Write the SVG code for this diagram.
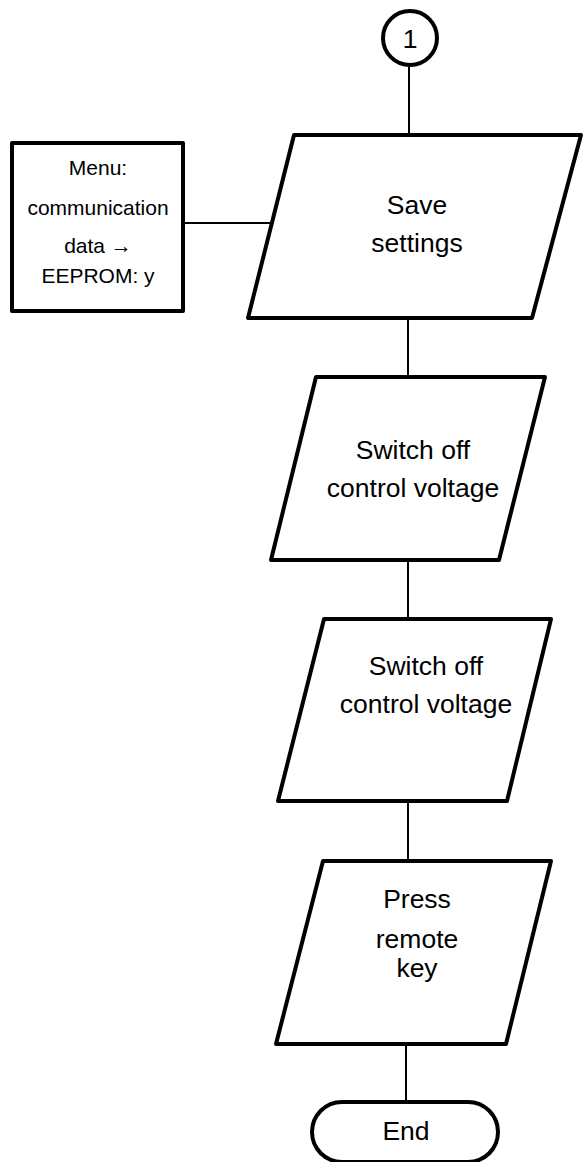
<svg xmlns="http://www.w3.org/2000/svg" width="586" height="1162" viewBox="0 0 586 1162">
<style>
.shape{fill:#fff;stroke:#000;stroke-width:4;stroke-linejoin:round}
.conn{stroke:#000;stroke-width:2;fill:none}
.t{font-family:"Liberation Sans",Arial,sans-serif;font-size:26.5px;fill:#000;text-anchor:middle}
.s{font-family:"Liberation Sans",Arial,sans-serif;font-size:21px;fill:#000;text-anchor:middle}
</style>
<rect width="586" height="1162" fill="#fff"/>
<g id="connectors">
<line class="conn" x1="409" y1="66" x2="409" y2="135"/>
<line class="conn" x1="185" y1="223" x2="271" y2="223"/>
<line class="conn" x1="408" y1="318" x2="408" y2="377"/>
<line class="conn" x1="408" y1="560" x2="408" y2="619"/>
<line class="conn" x1="408" y1="801" x2="408" y2="861"/>
<line class="conn" x1="406" y1="1044" x2="406" y2="1104"/>
</g>
<g id="start">
<circle class="shape" cx="410" cy="38" r="27"/>
<text class="t" x="410" y="48">1</text>
</g>
<g id="menu">
<rect class="shape" x="12" y="143" width="171" height="168"/>
<text class="s" x="98" y="175">Menu:</text>
<text class="s" x="98" y="215">communication</text>
<text class="s" x="98" y="253">data →</text>
<text class="s" x="98" y="283">EEPROM: y</text>
</g>
<g id="save">
<polygon class="shape" points="294,135 581,135 532,318 248,318"/>
<text class="t" x="417" y="214">Save</text>
<text class="t" x="417" y="252">settings</text>
</g>
<g id="switch1">
<polygon class="shape" points="316,377 545,377 499,560 271,560"/>
<text class="t" x="413" y="459">Switch off</text>
<text class="t" x="413" y="497">control voltage</text>
</g>
<g id="switch2">
<polygon class="shape" points="324,619 551,619 507,801 278,801"/>
<text class="t" x="426" y="675">Switch off</text>
<text class="t" x="426" y="713">control voltage</text>
</g>
<g id="press">
<polygon class="shape" points="323,861 551,861 506,1044 276,1044"/>
<text class="t" x="417" y="908">Press</text>
<text class="t" x="417" y="948">remote</text>
<text class="t" x="417" y="977">key</text>
</g>
<g id="end">
<rect class="shape" x="312" y="1102" width="186" height="60" rx="30"/>
<text class="t" x="406" y="1140">End</text>
</g>
</svg>
